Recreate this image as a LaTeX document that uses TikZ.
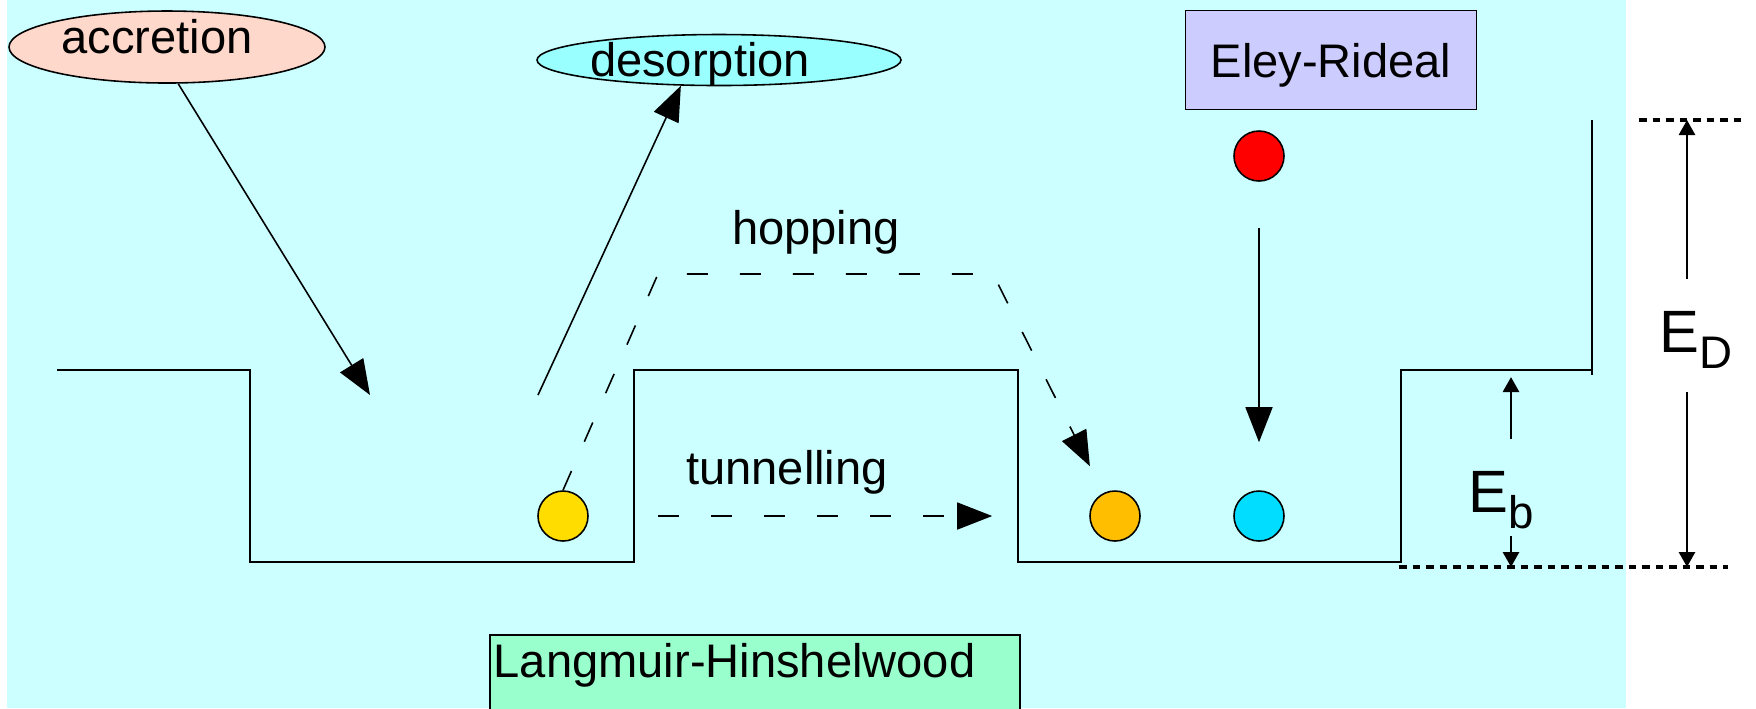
\documentclass[tikz,border=0pt]{standalone}
\usepackage{fontspec}
\setmainfont{Liberation Sans}
\usetikzlibrary{arrows.meta,shapes.geometric}
\definecolor{bgcyan}{HTML}{CCFFFF}
\definecolor{accfill}{HTML}{FFD8CC}
\definecolor{desfill}{HTML}{99FFFF}
\definecolor{erfill}{HTML}{CCCCFF}
\definecolor{lhfill}{HTML}{99FFCC}
\definecolor{ballyel}{HTML}{FFDD00}
\definecolor{ballora}{HTML}{FFBF00}
\definecolor{ballcya}{HTML}{00DDFF}
\newcommand{\energylabel}[1]{{\fontsize{17pt}{20pt}\selectfont E}\raisebox{-1.6mm}{\fontsize{13pt}{15pt}\selectfont #1}}
\begin{document}
\begin{tikzpicture}[x=0.1mm,y=-0.1mm,line width=0.45pt,
  every node/.style={font=\fontsize{13.4pt}{16pt}\selectfont},
  head/.style={-{Triangle[length=3.5mm,width=2.7mm]}},
  small head/.style={line width=0.8pt,-{Triangle[length=1.5mm,width=1.6mm]}},
  hop/.style={dash pattern=on 2.1mm off 3.2mm},
  level/.style={line width=1pt,dash pattern=on 0.75mm off 0.6mm},
  ball/.style={circle,draw,inner sep=0pt,minimum size=5mm}]
\fill[bgcyan] (7,0) rectangle (1626,708);
\useasboundingbox (0,0) rectangle (1756,708);
% surface
\draw (57,370) -- (250,370) -- (250,562) -- (634,562) -- (634,370) -- (1018,370)
  -- (1018,562) -- (1401,562) -- (1401,370) -- (1592,370);
\draw (1592,120) -- (1592,375);
\node (acc) [ellipse,draw,fill=accfill,minimum width=31.6mm,minimum height=7.2mm,inner sep=0pt] at (167,47) {};
\node (acclabel) [anchor=base] at (157,53) {accretion};
\node (des) [ellipse,draw,fill=desfill,minimum width=36.4mm,minimum height=5.1mm,inner sep=0pt] at (719,60) {};
\node (deslabel) [anchor=base] at (700,76) {desorption};
\node (er) [draw,fill=erfill,minimum width=29.1mm,minimum height=9.9mm,text depth=0pt] at (1331,60) {Eley-Rideal};
\node (lh) [draw,fill=lhfill,anchor=north west,minimum width=53mm,minimum height=8mm] at (489,634) {};
\node (lhlabel) [anchor=base west,inner sep=0pt] at (493,677) {Langmuir-Hinshelwood};
\node (hoplabel) [anchor=base] at (816,244) {hopping};
\node (tunlabel) [anchor=base] at (787,484) {tunnelling};
\foreach \name/\x/\y/\col in {yel/563/516/ballyel,ora/1115/516/ballora,cya/1259/516/ballcya,red/1259/156/red}
  \node (\name) [ball,fill=\col] at (\x,\y) {};
% processes
\coordinate (accend) at (370,395);
\coordinate (desstart) at (538,395);
\draw[head] (acc.-73) -- (accend);
\draw[head] (desstart) -- (des.-146);
\draw[hop,head,shorten >=3mm] (yel.north) -- (658,274) -- (993,274) -- (ora);
\draw[hop,head,shorten <=6.9mm,shorten >=9.7mm] (yel) -- (ora);
\draw[head,shorten <=4.6mm,shorten >=4.8mm] (red) -- (cya);
% energies
\coordinate (dtop) at (1687,120);
\coordinate (dbot) at (1687,567);
\coordinate (btop) at (1511,377);
\coordinate (bbot) at (1511,567);
\draw[level] (1639,120) -- (1745,120);
\draw[level] (1399,567) -- (1728,567);
\node (eb) [anchor=base west,inner sep=0pt] at (1468,512) {\energylabel{b}};
\node (ed) [anchor=base west,inner sep=0pt] at (1659,352) {\energylabel{D}};
\draw[small head] (1511,439) -- (btop);
\draw[small head] (1511,536) -- (bbot);
\draw[small head] (1687,279) -- (dtop);
\draw[small head] (1687,392) -- (dbot);
\end{tikzpicture}
\end{document}
